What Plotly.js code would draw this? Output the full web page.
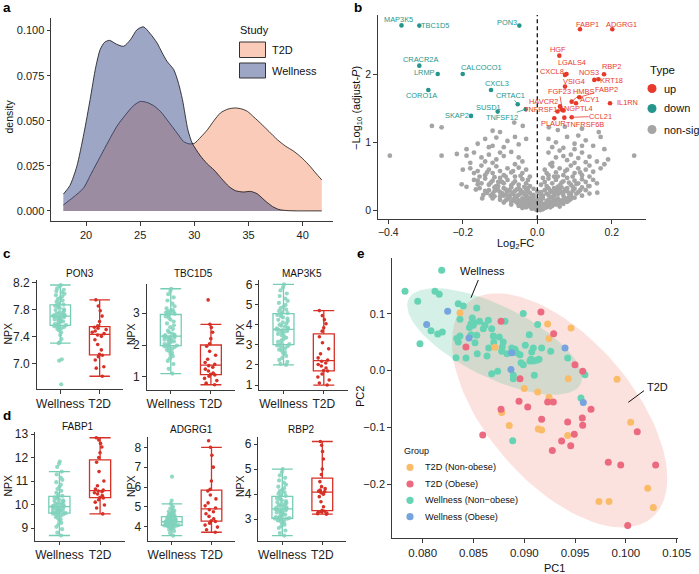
<!DOCTYPE html>
<html><head><meta charset="utf-8">
<script src="https://cdn.plot.ly/plotly-3.0.1.min.js"></script>
<style>html,body{margin:0;padding:0;background:#fff}#chart{width:699px;height:574px}</style>
</head><body><div id="chart"></div>
<script>
// ---------------- DATA ----------------
// Panel a: density by study
const densAgeT2D = [17.9,18.8,19.75,20.5,21.3,22.1,22.84,23.6,24.38,25.0,25.6,26.23,26.9,27.47,28.4,29.0,29.5,30.0,30.6,31.2,31.8,32.4,33.1,33.8,34.4,34.9,35.5,36.1,36.9,37.66,38.4,39.2,40.0,40.7,41.2,41.76];
const densT2D = [0.0033,0.0075,0.0126,0.021,0.030,0.039,0.0469,0.053,0.0584,0.0607,0.0602,0.0584,0.055,0.0506,0.0432,0.0385,0.0372,0.0375,0.041,0.045,0.050,0.0543,0.0565,0.0571,0.0565,0.0552,0.052,0.0487,0.044,0.0395,0.036,0.033,0.029,0.0246,0.021,0.0172];
const densAgeWell = [17.9,18.5,19.14,19.8,20.37,20.9,21.3,21.7,22.16,22.8,23.46,24.1,24.7,25.3,25.9,26.55,27.0,27.47,28.09,28.5,28.9,29.4,29.8,30.5,31.2,31.8,32.5,33.2,33.8,34.5,35.2,35.8,36.5,37.2,37.8,38.5,39.5,40.5,41.76];
const densWell = [0.0093,0.0140,0.0246,0.043,0.0617,0.080,0.0895,0.0935,0.0946,0.0925,0.0913,0.095,0.1005,0.1021,0.0985,0.0932,0.088,0.083,0.0784,0.0715,0.0617,0.045,0.0376,0.031,0.026,0.0228,0.018,0.0135,0.0112,0.0105,0.0108,0.0095,0.0058,0.0025,0.0008,0.0002,0.0,0.0,0.0];

// Panel b: volcano
const downGenes = ['MAP3K5','TBC1D5','PON3','CRACR2A','LRMP','CALCOCO1','CORO1A','CXCL3','CRTAC1','SUSD1','SKAP2','TNFSF12'];
const downFC = [-0.3646,-0.3168,-0.0483,-0.3168,-0.2674,-0.2003,-0.2926,-0.1243,-0.0526,-0.1063,-0.1780,-0.0311];
const downP = [2.712,2.709,2.709,2.123,2.001,2.001,1.767,1.767,1.558,1.450,1.387,1.485];
const upGenes = ['FABP1','ADGRG1','HGF','LGALS4','CXCL8','VSIG4','NOS3','KRT18','RBP2','FABP2','HMBS','FGF23','HAVCR2','ACY1','IL1RN','TNFRSF1A','ANGPTL4','CCL21','PLAUR','TNFRSF6B'];
const upFC = [0.1146,0.2013,0.0591,0.0784,0.0744,0.0744,0.1530,0.1638,0.1791,0.1128,0.0923,0.0671,0.0609,0.1039,0.1952,0.0542,0.0703,0.0923,0.0456,0.0725];
const upP = [2.656,2.656,2.269,2.001,1.987,1.816,1.914,1.924,1.997,1.660,1.596,1.474,1.526,1.572,1.572,1.452,1.467,1.367,1.353,1.362];
const nsFC = [-0.283,-0.257,-0.062,-0.039,-0.12,-0.10,0.031,0.074,0.055,0.12,0.165,
 -0.14,-0.11,-0.08,-0.06,-0.16,-0.12,-0.09,-0.05,-0.03,0.03,0.05,0.08,0.10,0.13,0.15,0.04,0.07,0.11,0.17,
 -0.396,-0.257,-0.216,-0.19,0.26,
 -0.17,-0.15,-0.13,-0.11,-0.09,-0.07,-0.05,-0.04,-0.12,-0.14,0.03,0.05,0.06,0.08,0.09,0.11,0.12,0.14,0.16,0.04,0.10,0.13,
 -0.18,-0.16,-0.15,-0.13,-0.12,-0.11,-0.10,-0.09,-0.08,-0.07,-0.06,-0.05,-0.04,-0.14,-0.17,-0.03,0.02,0.03,0.04,0.05,0.06,0.07,0.08,0.09,0.10,0.11,0.12,0.13,0.15,0.17,0.14,0.035,
 -0.17,-0.15,-0.14,-0.13,-0.12,-0.11,-0.10,-0.09,-0.08,-0.07,-0.06,-0.05,-0.04,-0.03,-0.02,-0.203,-0.19,-0.16,-0.095,-0.125,0.02,0.025,0.03,0.04,0.05,0.06,0.07,0.08,0.09,0.10,0.11,0.12,0.137,0.13,0.15,0.045,0.085,
 -0.13,-0.12,-0.11,-0.10,-0.09,-0.09,-0.08,-0.07,-0.07,-0.06,-0.05,-0.05,-0.04,-0.03,-0.03,-0.02,-0.015,0.015,0.02,0.025,0.03,0.04,0.045,0.05,0.06,0.065,0.07,0.08,0.09,0.10,0.11,0.161,-0.148,-0.115,0.085,0.035,-0.035,0.055,-0.105,0.095,
 -0.08,-0.07,-0.06,-0.05,-0.045,-0.04,-0.03,-0.025,-0.02,-0.01,0.01,0.015,0.02,0.03,0.035,0.04,0.05,0.055,0.06,0.07,0.08,-0.09,-0.1,0.09,
 -0.035,-0.03,-0.025,-0.02,-0.015,-0.01,-0.005,0,0.005,0.01,0.015,0.02,0.025,0.03,0.04,-0.045,0.05,-0.005,0.008,
 -0.115,-0.095,-0.085,-0.075,-0.065,-0.055,-0.045,-0.035,-0.025,-0.01,0.01,0.035,0.045,0.055,0.075,0.085,0.095,-0.055,-0.035,-0.015,0.005,0.025,0.045,0.065,-0.065,-0.02,0.02,-0.01,0.01,-0.04,
 -0.012,0.012,-0.028,0.028,-0.04,0.04,-0.05,0.06,-0.06,0.075,-0.075,-0.085,0.085,
 -0.125,-0.1,-0.085,-0.06,-0.045,-0.025,0.005,0.03,0.05,0.07,0.09,0.105,0.115,-0.135,-0.105,-0.075,-0.055,0.06,0.08,-0.01,0.0,0.01,-0.115,0.12,
 -0.155,-0.135,-0.115,-0.085,-0.065,-0.045,0.025,0.055,0.075,0.095,0.115,0.14,-0.105,-0.065,0.065,0.105,
 -0.155,-0.14,0.13,0.14,-0.16,0.16,-0.18,-0.2,0.18,0.19,-0.19,0.18,-0.1,0.07,-0.06,0.1,-0.13,0.12,-0.02,0.015,-0.025,0.01,-0.01,0.0,-0.005,0.005,0.035,-0.04,0.045,-0.05,0.06,-0.07,0.07,-0.08,0.1,-0.12,0.12,-0.145,0.14,-0.165];
const nsP = [1.24,1.22,1.29,1.24,1.17,1.15,1.22,1.23,1.18,1.2,1.15,
 1.05,1.07,1.02,1.08,0.98,0.95,0.93,0.97,1.05,1.05,1.0,1.08,0.98,1.03,0.95,0.93,0.92,1.1,1.08,
 0.805,0.805,0.83,0.805,0.805,
 0.85,0.78,0.82,0.75,0.80,0.86,0.78,0.72,0.70,0.72,0.85,0.78,0.88,0.74,0.82,0.77,0.85,0.79,0.72,0.70,0.70,0.71,
 0.62,0.58,0.66,0.6,0.55,0.65,0.58,0.52,0.62,0.56,0.50,0.63,0.55,0.52,0.55,0.60,0.6,0.52,0.65,0.56,0.62,0.52,0.6,0.66,0.55,0.62,0.52,0.6,0.57,0.62,0.66,0.68,
 0.45,0.40,0.47,0.38,0.44,0.36,0.48,0.40,0.45,0.37,0.43,0.38,0.46,0.40,0.36,0.386,0.35,0.386,0.42,0.41,0.42,0.36,0.47,0.40,0.45,0.37,0.43,0.48,0.38,0.44,0.40,0.46,0.36,0.42,0.45,0.5,0.41,
 0.3,0.25,0.32,0.27,0.22,0.33,0.28,0.24,0.34,0.29,0.23,0.33,0.27,0.31,0.22,0.26,0.21,0.22,0.3,0.25,0.33,0.27,0.22,0.31,0.26,0.34,0.22,0.29,0.24,0.32,0.27,0.264,0.18,0.21,0.2,0.2,0.35,0.35,0.36,0.35,
 0.17,0.13,0.19,0.15,0.11,0.18,0.14,0.19,0.11,0.15,0.13,0.18,0.1,0.16,0.12,0.19,0.14,0.18,0.11,0.16,0.13,0.12,0.16,0.17,
 0.08,0.05,0.09,0.06,0.03,0.07,0.02,0.005,0.03,0.06,0.02,0.08,0.05,0.09,0.07,0.09,0.09,0.05,0.01,
 0.285,0.255,0.31,0.205,0.265,0.205,0.3,0.245,0.33,0.23,0.27,0.29,0.33,0.245,0.31,0.255,0.29,0.12,0.17,0.12,0.09,0.14,0.16,0.14,0.16,0.16,0.04,0.1,0.1,0.04,
 0.04,0.035,0.12,0.11,0.13,0.13,0.1,0.15,0.14,0.18,0.19,0.15,0.15,
 0.22,0.21,0.24,0.22,0.25,0.28,0.25,0.23,0.27,0.27,0.21,0.25,0.3,0.26,0.3,0.3,0.31,0.3,0.33,0.19,0.15,0.2,0.34,0.34,
 0.5,0.56,0.49,0.5,0.58,0.51,0.55,0.5,0.58,0.5,0.56,0.5,0.42,0.4,0.41,0.39,
 0.33,0.29,0.3,0.36,0.44,0.4,0.7,0.6,0.68,0.75,0.9,0.9,0.85,0.8,0.68,0.9,0.93,0.95,0.5,0.48,0.45,0.38,0.32,0.28,0.13,0.17,0.05,0.06,0.1,0.07,0.06,0.09,0.1,0.22,0.19,0.18,0.22,0.23,0.25,0.31];

// Panels c & d: NPX values
const PON3_W = [6.69,7.04,7.06,7.30,7.31,7.36,7.42,7.46,7.49,7.51,7.52,7.53,7.54,7.55,7.56,7.565,7.57,7.58,7.60,7.61,7.62,7.63,7.64,7.65,7.66,7.67,7.68,7.68,7.69,7.70,7.70,7.71,7.72,7.72,7.73,7.74,7.75,7.76,7.78,7.79,7.80,7.82,7.83,7.85,7.86,7.87,7.89,7.91,7.93,7.95,7.97,7.99,8.01,8.03,8.05,8.07,8.09,8.11,8.14,8.16];
const PON3_T = [6.81,6.93,6.95,7.05,7.10,7.12,7.135,7.20,7.28,7.35,7.40,7.42,7.44,7.46,7.48,7.50,7.52,7.535,7.555,7.62,7.70,7.78,7.85,7.94];
const TBC1D5_W = [1.10,1.25,1.40,1.50,1.58,1.65,1.70,1.75,1.80,1.85,1.88,1.91,1.94,1.96,1.975,1.985,2.00,2.03,2.06,2.09,2.11,2.13,2.15,2.17,2.19,2.21,2.23,2.25,2.26,2.27,2.29,2.31,2.33,2.36,2.40,2.45,2.50,2.56,2.62,2.68,2.74,2.80,2.86,2.90,2.94,2.98,3.00,3.02,3.04,3.06,3.08,3.10,3.15,3.22,3.30,3.40,3.50,3.60,3.70,3.77];
const TBC1D5_T = [0.75,0.80,0.88,0.95,1.02,1.06,1.08,1.12,1.18,1.24,1.30,1.35,1.39,1.45,1.55,1.68,1.80,1.96,2.04,2.20,2.40,2.55,2.65,3.42];
const MAP3K5_W = [2.00,2.05,2.15,2.25,2.35,2.45,2.55,2.62,2.70,2.76,2.82,2.88,2.93,2.97,2.99,3.03,3.08,3.15,3.22,3.28,3.35,3.42,3.48,3.54,3.59,3.64,3.68,3.72,3.74,3.76,3.78,3.82,3.86,3.90,3.95,4.00,4.06,4.12,4.18,4.24,4.30,4.36,4.42,4.48,4.53,4.57,4.62,4.68,4.75,4.82,4.90,4.98,5.08,5.18,5.30,5.42,5.55,5.70,5.85,6.00];
const MAP3K5_T = [1.00,1.10,1.25,1.40,1.55,1.70,1.72,1.85,1.95,2.02,2.10,2.18,2.24,2.35,2.55,2.80,3.10,3.40,3.68,3.85,4.05,4.25,4.45,4.70];
const FABP1_W = [8.68,8.80,8.95,9.05,9.15,9.22,9.30,9.36,9.42,9.47,9.51,9.55,9.58,9.61,9.625,9.635,9.65,9.67,9.69,9.71,9.73,9.75,9.77,9.79,9.81,9.83,9.85,9.87,9.89,9.90,9.92,9.94,9.96,9.98,10.00,10.03,10.06,10.09,10.12,10.15,10.18,10.22,10.26,10.30,10.33,10.37,10.42,10.50,10.58,10.66,10.75,10.85,10.95,11.05,11.15,11.28,11.40,11.60,11.73,11.83];
const FABP1_T = [9.60,9.85,9.98,10.10,10.20,10.28,10.30,10.38,10.45,10.50,10.54,10.57,10.61,10.66,10.80,11.00,11.40,11.80,12.00,12.20,12.45,12.60,12.75,12.84];
const ADGRG1_W = [3.55,3.68,3.78,3.85,3.90,3.94,3.97,3.99,4.01,4.02,4.03,4.04,4.05,4.06,4.065,4.075,4.08,4.09,4.10,4.11,4.12,4.14,4.15,4.17,4.18,4.19,4.21,4.22,4.23,4.24,4.26,4.27,4.28,4.29,4.30,4.32,4.33,4.35,4.36,4.38,4.40,4.42,4.44,4.46,4.49,4.53,4.56,4.59,4.62,4.65,4.68,4.72,4.76,4.80,4.86,4.93,5.00,5.15,5.31,6.52];
const ADGRG1_T = [3.72,3.85,3.98,4.08,4.18,4.26,4.30,4.40,4.52,4.65,4.75,4.86,4.94,5.05,5.20,5.40,5.60,5.80,5.88,6.30,7.00,7.60,8.00,8.33];
const RBP2_W = [2.35,2.45,2.55,2.65,2.72,2.78,2.84,2.88,2.92,2.95,2.98,3.00,3.02,3.03,3.035,3.045,3.06,3.09,3.12,3.15,3.18,3.21,3.24,3.27,3.30,3.32,3.35,3.37,3.39,3.40,3.42,3.44,3.47,3.50,3.53,3.56,3.59,3.62,3.65,3.68,3.72,3.76,3.80,3.84,3.89,3.93,3.97,4.02,4.07,4.12,4.18,4.24,4.30,4.38,4.46,4.55,4.65,4.75,4.88,5.00];
const RBP2_T = [3.20,3.22,3.25,3.28,3.30,3.32,3.36,3.50,3.70,3.90,4.00,4.06,4.10,4.12,4.16,4.22,4.30,4.50,4.78,5.00,5.40,5.70,5.95,6.10];
const boxGroups = ['Wellness','T2D'];

// Panel e: PCA
const wnoPC1 = [0.08187,0.07826,0.07951,0.08121,0.08163,0.08082,0.08148,0.08193,0.07973,0.08350,0.08400,0.08532,0.08367,0.08488,0.08508,0.08498,0.08475,0.08646,0.08613,0.08597,0.08679,0.08810,0.08990,0.09132,0.09049,0.08367,0.08350,0.08475,0.08532,0.08515,0.08335,0.08695,0.08754,0.08793,0.08784,0.08778,0.08876,0.08909,0.08925,0.08958,0.09073,0.09089,0.09171,0.09260,0.08968,0.08990,0.09056,0.09089,0.09122,0.09145,0.09066,0.09099,0.08892,0.08892,0.08679,0.08738,0.08537,0.08426,0.08328,0.08633,0.09427,0.09597,0.09558,0.08886,0.08560,0.08460,0.08700,0.08830,0.09010,0.08650];
const wnoPC2 = [0.1771,0.140,0.1224,0.140,0.1347,0.0705,0.0647,0.0683,0.0476,0.1182,0.1141,0.1106,0.0906,0.0929,0.0847,0.0800,0.0829,0.0888,0.0800,0.0741,0.0741,0.0871,0.1006,0.0812,0.0635,0.0612,0.0506,0.0635,0.0624,0.0494,0.0565,0.0612,0.0594,0.0506,0.0418,0.0342,0.0400,0.0377,0.0317,0.0282,0.0330,0.0400,0.0400,0.0342,0.0141,0.0106,0.0171,0.0171,0.0183,0.0201,0.0201,-0.0081,-0.0081,-0.0141,-0.0053,-0.0011,0.0300,0.0224,0.0229,0.0259,0.0224,-0.0071,-0.0482,-0.1235,0.0870,0.0760,0.0500,0.0300,0.0450,0.0400];
const woPC1 = [0.08246,0.08039,0.08456,0.08876,0.08869,0.09401,0.09581];
const woPC2 = [0.1047,0.0812,0.0577,0.0317,0.0018,0.0400,-0.0564];
const tnoPC1 = [0.08367,0.08712,0.09230,0.09460,0.09243,0.09433,0.09000,0.09132,0.09243,0.09913,0.08778,0.08852,0.10047,0.09138,0.09171,0.09427,0.10215,0.09735,0.09834,0.10270];
const tnoPC2 = [0.1023,0.0413,0.0824,0.0753,0.0565,-0.0141,-0.0317,-0.0376,-0.0470,-0.0152,-0.0740,-0.0970,-0.0910,-0.1028,-0.1046,-0.1146,-0.2074,-0.2310,-0.2310,-0.2416];
const toPC1 = [0.08771,0.09164,0.09289,0.08426,0.08958,0.09499,0.09575,0.09657,0.08948,0.09034,0.08771,0.09230,0.09286,0.09171,0.09427,0.09571,0.09575,0.08591,0.09368,0.09457,0.09492,0.09276,0.09827,0.09949,0.10293,0.10112,0.10018];
const toPC2 = [0.0871,0.1035,0.0653,0.0418,-0.0141,0.0106,-0.0011,-0.0681,-0.0540,-0.0640,-0.0680,-0.0552,-0.0552,-0.0857,-0.0905,-0.0834,-0.0963,-0.1134,-0.1240,-0.1323,-0.1122,-0.1411,-0.1616,-0.1663,-0.1663,-0.1076,-0.2734];

// ---------------- STYLE / LAYOUT ----------------
const W = 699, H = 574;
const px = x => x / W, py = y => 1 - y / H;
const FONT = "'Liberation Sans', Arial, Helvetica, sans-serif";
const AXC = '#3a3a3a';
const TEAL_L = 'rgb(118,204,180)', TEAL_P = 'rgba(128,210,188,0.85)', RED_B = 'rgb(214,48,39)';
const UP = 'rgb(232,57,45)', DOWN = 'rgb(38,150,140)', NS = 'rgb(165,165,165)';
const C_TNO = 'rgb(250,188,105)', C_TO = 'rgb(236,106,128)', C_WNO = 'rgb(102,212,180)', C_WO = 'rgb(118,165,222)';

function xax(l, r, range, anchor, opts) {
  return Object.assign({domain: [px(l), px(r)], range, anchor, showline: true, linecolor: AXC, linewidth: 1,
    ticks: 'outside', ticklen: 3.5, tickwidth: 1, tickcolor: AXC, showgrid: false, zeroline: false,
    tickfont: {family: FONT, size: 11, color: '#222'}, fixedrange: true}, opts || {});
}
function yax(t, b, range, anchor, opts) {
  return Object.assign({domain: [py(b), py(t)], range, anchor, showline: true, linecolor: AXC, linewidth: 1,
    ticks: 'outside', ticklen: 3.5, tickwidth: 1, tickcolor: AXC, showgrid: false, zeroline: false,
    tickfont: {family: FONT, size: 11, color: '#222'}, fixedrange: true}, opts || {});
}
function catAx(l, r, anchor) {
  return xax(l, r, [-0.6, 1.6], anchor, {type: 'category', categoryorder: 'array', categoryarray: boxGroups,
    tickfont: {family: FONT, size: 12, color: '#222'}});
}

const traces = [];
// Panel a
traces.push({type: 'scatter', x: densAgeT2D, y: densT2D, xaxis: 'x', yaxis: 'y', mode: 'lines',
  line: {color: '#111', width: 0.8, shape: 'spline', smoothing: 0.7}, fill: 'tozeroy', fillcolor: 'rgba(245,151,115,0.5)'});
traces.push({type: 'scatter', x: densAgeWell, y: densWell, xaxis: 'x', yaxis: 'y', mode: 'lines',
  line: {color: '#111', width: 0.8, shape: 'spline', smoothing: 0.7}, fill: 'tozeroy', fillcolor: 'rgba(59,77,137,0.5)'});
// Panel b
traces.push({type: 'scatter', mode: 'markers', x: nsFC, y: nsP, xaxis: 'x2', yaxis: 'y2', marker: {color: NS, size: 4.8}});
traces.push({type: 'scatter', mode: 'markers', x: downFC, y: downP, xaxis: 'x2', yaxis: 'y2', marker: {color: DOWN, size: 4.6}});
traces.push({type: 'scatter', mode: 'markers', x: upFC, y: upP, xaxis: 'x2', yaxis: 'y2', marker: {color: UP, size: 4.6}});
// Panels c, d
function box(vals, grp, xa, ya) {
  const w = grp === 'Wellness';
  return {type: 'box', y: vals, x0: grp, name: grp, xaxis: xa, yaxis: ya, boxpoints: 'all', jitter: 0.75, pointpos: 0,
    width: 0.52, whiskerwidth: 1, line: {color: w ? TEAL_L : RED_B, width: 1.3}, fillcolor: 'rgba(255,255,255,0)',
    marker: {color: w ? TEAL_P : RED_B, size: w ? 4.2 : 3.6}};
}
const boxSets = [[PON3_W, PON3_T], [TBC1D5_W, TBC1D5_T], [MAP3K5_W, MAP3K5_T], [FABP1_W, FABP1_T], [ADGRG1_W, ADGRG1_T], [RBP2_W, RBP2_T]];
boxSets.forEach((s, i) => {
  const n = i + 3;
  traces.push(box(s[0], 'Wellness', 'x' + n, 'y' + n));
  traces.push(box(s[1], 'T2D', 'x' + n, 'y' + n));
});
// Panel e: 95% ellipses from the points, robust multivariate t scatter (as in ggplot2 stat_ellipse type "t")
function covTrob(xs, ys) {
  const n = xs.length, nu = 5, p = 2;
  let lx = xs.reduce((a, b) => a + b, 0) / n, ly = ys.reduce((a, b) => a + b, 0) / n;
  let w = new Array(n).fill(1), X = [], Y = [];
  for (let it = 0; it < 25; it++) {
    const w0 = w.slice();
    X = xs.map(v => v - lx); Y = ys.map(v => v - ly);
    const sw = w.reduce((a, b) => a + b, 0);
    let a = 0, b = 0, c = 0;
    for (let i = 0; i < n; i++) { const f = w[i] / sw; a += f * X[i] * X[i]; b += f * X[i] * Y[i]; c += f * Y[i] * Y[i]; }
    const det = a * c - b * b;
    w = X.map((dx, i) => { const dy = Y[i]; const Q = (c * dx * dx - 2 * b * dx * dy + a * dy * dy) / det; return (nu + p) / (nu + Q); });
    const sw2 = w.reduce((s, v) => s + v, 0);
    lx = xs.reduce((s, v, i) => s + w[i] * v, 0) / sw2;
    ly = ys.reduce((s, v, i) => s + w[i] * v, 0) / sw2;
    if (w.every((v, i) => Math.abs(v - w0[i]) < 0.01)) break;
  }
  let sxx = 0, sxy = 0, syy = 0;
  for (let i = 0; i < n; i++) { sxx += w[i] * X[i] * X[i]; sxy += w[i] * X[i] * Y[i]; syy += w[i] * Y[i] * Y[i]; }
  return {cx: lx, cy: ly, sxx: sxx / n, sxy: sxy / n, syy: syy / n};
}
function ellipse(xs, ys, level) {
  const n = xs.length, s = covTrob(xs, ys);
  const d2 = n - 1;
  const q = d2 / 2 * (Math.pow(1 - level, -2 / d2) - 1);
  const r = Math.sqrt(2 * q);
  const R11 = Math.sqrt(s.sxx), R12 = s.sxy / R11, R22 = Math.sqrt(s.syy - R12 * R12);
  const ex = [], ey = [];
  for (let k = 0; k <= 120; k++) {
    const t = 2 * Math.PI * k / 120, u = Math.cos(t), v = Math.sin(t);
    ex.push(s.cx + r * u * R11); ey.push(s.cy + r * (u * R12 + v * R22));
  }
  return [ex, ey];
}
const t2dX = tnoPC1.concat(toPC1), t2dY = tnoPC2.concat(toPC2);
const welX = wnoPC1.concat(woPC1), welY = wnoPC2.concat(woPC2);
const eT = ellipse(t2dX, t2dY, 0.95), eW = ellipse(welX, welY, 0.95);
traces.push({type: 'scatter', mode: 'lines', x: eT[0], y: eT[1], xaxis: 'x9', yaxis: 'y9', fill: 'toself',
  fillcolor: 'rgba(243,123,107,0.22)', line: {width: 0, color: 'rgba(0,0,0,0)'}});
traces.push({type: 'scatter', mode: 'lines', x: eW[0], y: eW[1], xaxis: 'x9', yaxis: 'y9', fill: 'toself',
  fillcolor: 'rgba(87,195,155,0.25)', line: {width: 0, color: 'rgba(0,0,0,0)'}});
[[wnoPC1, wnoPC2, C_WNO], [woPC1, woPC2, C_WO], [tnoPC1, tnoPC2, C_TNO], [toPC1, toPC2, C_TO]].forEach(g => {
  traces.push({type: 'scatter', mode: 'markers', x: g[0], y: g[1], xaxis: 'x9', yaxis: 'y9', marker: {color: g[2], size: 7}});
});

// ---------------- ANNOTATIONS ----------------
function txt(x, y, text, size, opts) {
  return Object.assign({xref: 'paper', yref: 'paper', x: px(x), y: py(y), text, showarrow: false,
    font: {family: FONT, size, color: '#111'}, xanchor: 'center', yanchor: 'middle'}, opts || {});
}
const ann = [];
[['a', 7, 8], ['b', 358, 8], ['c', 7, 254], ['d', 7, 415], ['e', 361, 253]].forEach(l =>
  ann.push(txt(l[1], l[2], '<b>' + l[0] + '</b>', 13.5, {font: {family: FONT, size: 13.5, color: '#000'}})));
ann.push(txt(8.5, 117, 'density', 10.5, {textangle: -90}));
ann.push(txt(238, 30, 'Study', 11, {xanchor: 'left'}));
ann.push(txt(270, 50, 'T2D', 11, {xanchor: 'left'}));
ann.push(txt(270, 70.5, 'Wellness', 11, {xanchor: 'left'}));
ann.push(txt(357, 108, '−Log<sub>10</sub> (adjust-<i>P</i>)', 11, {textangle: -90}));
ann.push(txt(515, 244, 'Log<sub>2</sub>FC', 11));
ann.push(txt(648, 70, 'Type', 11.5, {xanchor: 'left'}));
ann.push(txt(662, 88.5, 'up', 11, {xanchor: 'left'}));
ann.push(txt(662, 108.5, 'down', 11, {xanchor: 'left'}));
ann.push(txt(662, 129.5, 'non-sig', 10.8, {xanchor: 'left'}));
// volcano label offsets (px) from point; third item: draw segment
const downOff = [[-3,-6,0],[16,0,0],[-12,-3,0],[1,-6,0],[-13,-1,0],[19,-6,0],[-7,6,0],[6,-6,0],[-7,-9,1],[-9,-4,0],[-14,0,0],[-24,8,1]];
const upOff = [[7,-5,0],[9,-5,0],[-1,-6,0],[5,-11,0],[-13,-3,0],[9,-5,0],[-5,-7,0],[13,1,0],[7,-8,0],[27,-8,1],[12,-10.5,1],[-3,-18.5,1],[-16,-4.5,0],[13,-3.5,0],[17,-1,0],[-15,-2,0],[13,-2,0],[29,-1,1],[-1,5.5,0],[21,6.5,0]];
function vlab(g, x, y, o, col) {
  return {xref: 'x2', yref: 'y2', x, y, text: g, showarrow: true, ax: o[0], ay: o[1], arrowhead: 0, borderpad: 0,
    arrowwidth: 0.8, arrowcolor: o[2] ? col : 'rgba(0,0,0,0)', standoff: 2, font: {family: FONT, size: 7.4, color: col}};
}
downGenes.forEach((g, i) => ann.push(vlab(g, downFC[i], downP[i], downOff[i], DOWN)));
upGenes.forEach((g, i) => ann.push(vlab(g, upFC[i], upP[i], upOff[i], UP)));
[['PON3', 80, 273], ['TBC1D5', 193, 273], ['MAP3K5', 302, 273], ['FABP1', 78, 426], ['ADGRG1', 191.5, 429.5], ['RBP2', 301, 429.5]].forEach(t =>
  ann.push(txt(t[1], t[2], t[0], 10)));
[[7.5, 334], [131, 334], [240, 334], [7.5, 486], [131, 486], [240, 486]].forEach(p => ann.push(txt(p[0], p[1], 'NPX', 10.5, {textangle: -90})));
ann.push(txt(360, 397, 'PC2', 11, {textangle: -90}));
ann.push(txt(554, 568, 'PC1', 11));
ann.push(txt(482, 271.5, 'Wellness', 11));
ann.push(txt(657, 387, 'T2D', 11));
ann.push(txt(401.5, 450.5, 'Group', 9, {xanchor: 'left'}));
[['T2D (Non-obese)', 467.3], ['T2D (Obese)', 484], ['Wellness (Non−obese)', 500.3], ['Wellness (Obese)', 516.7]].forEach(l =>
  ann.push(txt(422.5, l[1], l[0], 9.2, {xanchor: 'left'})));

// ---------------- SHAPES ----------------
const shapes = [];
function rect(x0, y0, x1, y1, fill) {
  return {type: 'rect', xref: 'paper', yref: 'paper', x0: px(x0), x1: px(x1), y0: py(y1), y1: py(y0), fillcolor: fill, line: {color: '#333', width: 1}};
}
function dot(cx, cy, r, fill) {
  return {type: 'circle', xref: 'paper', yref: 'paper', x0: px(cx - r), x1: px(cx + r), y0: py(cy + r), y1: py(cy - r), fillcolor: fill, line: {width: 0}};
}
function seg(x0, y0, x1, y1) {
  return {type: 'line', xref: 'paper', yref: 'paper', x0: px(x0), x1: px(x1), y0: py(y0), y1: py(y1), line: {color: '#111', width: 1}};
}
shapes.push(rect(239.5, 42, 265.5, 57.5, 'rgba(245,151,115,0.5)'));
shapes.push(rect(239.5, 63, 265.5, 78, 'rgba(59,77,137,0.5)'));
shapes.push({type: 'line', xref: 'x2', yref: 'y2 domain', x0: 0, x1: 0, y0: 0, y1: 1, line: {color: '#111', width: 1.3, dash: '4px,3px'}});
shapes.push(dot(652, 88.5, 4.5, UP));
shapes.push(dot(652, 108.5, 4.5, DOWN));
shapes.push(dot(652, 129.5, 4.5, NS));
shapes.push(seg(478.3, 280, 471, 297.7));
shapes.push(seg(644, 390.7, 628.3, 402.3));
[[467.3, C_TNO], [484, C_TO], [500.3, C_WNO], [516.7, C_WO]].forEach(l => shapes.push(dot(410, l[0], 3.6, l[1])));

const layout = {
  width: W, height: H, margin: {l: 0, r: 0, t: 0, b: 0}, paper_bgcolor: '#fff', plot_bgcolor: 'rgba(0,0,0,0)',
  showlegend: false, font: {family: FONT}, boxmode: 'overlay',
  xaxis: xax(51, 333, [16.76, 42.8], 'y', {tickvals: [20, 25, 30, 35, 40]}),
  yaxis: yax(18, 221, [-0.0056, 0.107], 'x', {tickvals: [0, 0.025, 0.05, 0.075, 0.1], tickformat: '.3f'}),
  xaxis2: xax(377.7, 646, [-0.4285, 0.2918], 'y2', {tickvals: [-0.4, -0.2, 0, 0.2], tickformat: '.1f', tickfont: {family: FONT, size: 10.5, color: '#222'}}),
  yaxis2: yax(15, 219.3, [-0.126, 2.864], 'x2', {tickvals: [0, 1, 2], tickfont: {family: FONT, size: 10.5, color: '#222'}}),
  xaxis3: catAx(36.7, 123.3, 'y3'),
  yaxis3: yax(280, 389.3, [6.617, 8.234], 'x3', {tickvals: [7.0, 7.4, 7.8, 8.2], tickformat: '.1f', tickfont: {family: FONT, size: 12, color: '#222'}}),
  xaxis4: catAx(146.7, 235, 'y4'),
  yaxis4: yax(284, 389.5, [0.6, 3.92], 'x4', {tickvals: [1, 2, 3], tickfont: {family: FONT, size: 12, color: '#222'}}),
  xaxis5: catAx(259.3, 348, 'y5'),
  yaxis5: yax(280, 389.5, [0.78, 6.22], 'x5', {tickvals: [1, 2, 3, 4, 5, 6], tickfont: {family: FONT, size: 12, color: '#222'}}),
  xaxis6: catAx(35, 124.5, 'y6'),
  yaxis6: yax(431.7, 540.5, [8.468, 13.098], 'x6', {tickvals: [9, 10, 11, 12, 13], tickfont: {family: FONT, size: 12, color: '#222'}}),
  xaxis7: catAx(148, 235.3, 'y7'),
  yaxis7: yax(436.5, 540.5, [3.305, 8.544], 'x7', {tickvals: [4, 5, 6, 7, 8], tickfont: {family: FONT, size: 12, color: '#222'}}),
  xaxis8: catAx(258.3, 346.3, 'y8'),
  yaxis8: yax(436.7, 540.5, [2.152, 6.292], 'x8', {tickvals: [3, 4, 5, 6], tickfont: {family: FONT, size: 12, color: '#222'}}),
  xaxis9: xax(391.7, 678.3, [0.07695, 0.10516], 'y9', {tickvals: [0.080, 0.085, 0.090, 0.095, 0.100, 0.105], tickformat: '.3f', tickfont: {family: FONT, size: 11.5, color: '#222'}}),
  yaxis9: yax(258.3, 538.3, [-0.2958, 0.1982], 'x9', {tickvals: [-0.2, -0.1, 0, 0.1], tickformat: '.1f', tickfont: {family: FONT, size: 11, color: '#222'}}),
  annotations: ann, shapes: shapes
};
Plotly.newPlot('chart', traces, layout, {staticPlot: true, displayModeBar: false});
</script></body></html>
